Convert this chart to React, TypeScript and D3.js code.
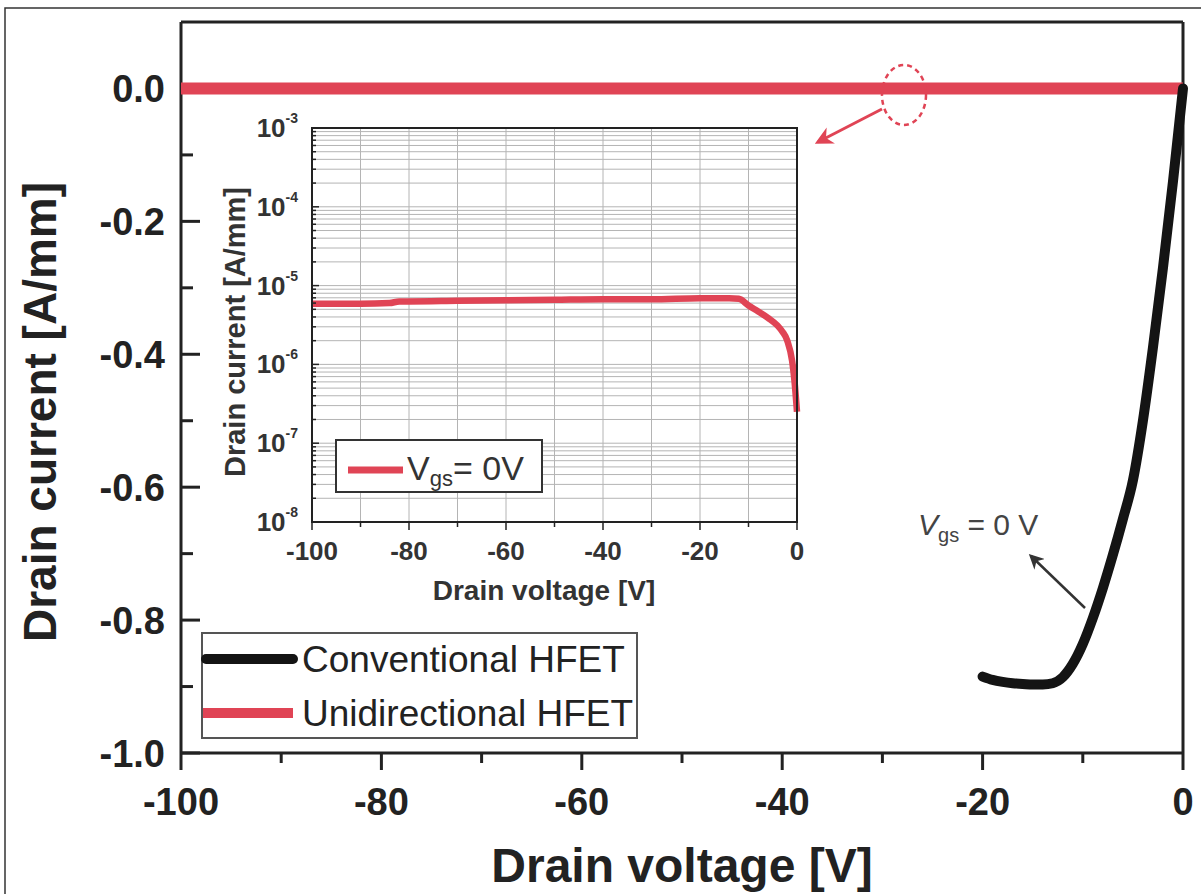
import React from 'react';
import * as d3 from 'd3';

// main plot: drain current vs drain voltage
const convVoltage = [-20, -19, -18, -17, -16, -15, -14, -13, -12, -11, -10, -9, -8, -7, -6, -5, -4, -3, -2, -1, -0.5, 0];
const convCurrent = [-0.885, -0.89, -0.893, -0.895, -0.896, -0.897, -0.897, -0.895, -0.886, -0.866, -0.836, -0.797, -0.752, -0.702, -0.648, -0.59, -0.5, -0.39, -0.27, -0.14, -0.07, 0];
const uniVoltage = [-100, -50, 0];
const uniCurrent = [0, 0, 0];

// inset: unidirectional HFET on log scale
const insetVoltage = [-100, -90, -84, -82, -80, -70, -60, -50, -40, -30, -20, -14, -12, -10, -8, -6, -4, -3, -2, -1, -0.5, 0];
const insetCurrent = [5.9e-6, 5.9e-6, 6.0e-6, 6.3e-6, 6.3e-6, 6.4e-6, 6.5e-6, 6.6e-6, 6.7e-6, 6.7e-6, 6.9e-6, 6.9e-6, 6.8e-6, 5.6e-6, 4.7e-6, 3.9e-6, 3.1e-6, 2.6e-6, 2.0e-6, 1.1e-6, 6e-7, 2.5e-7];

const xTicks = [-100, -80, -60, -40, -20, 0];
const xMinor = [-90, -70, -50, -30, -10];
const yTicks = [0, -0.2, -0.4, -0.6, -0.8, -1.0];
const yMinor = [-0.1, -0.3, -0.5, -0.7, -0.9];
const insetXTicks = [-100, -80, -60, -40, -20, 0];
const insetXMinor = [-90, -70, -50, -30, -10];
const insetDecades = [-3, -4, -5, -6, -7, -8];
const legendLabels = ['Conventional HFET', 'Unidirectional HFET'];

const RED = '#e04455';
const BLACK = '#141414';
const FONT = '"Liberation Sans", Arial, sans-serif';

export default function App() {
  const x = d3.scaleLinear([-100, 0], [181, 1183]);
  const y = d3.scaleLinear([-1, 0.1], [753, 22]);
  const ix = d3.scaleLinear([-100, 0], [312, 797]);
  const iy = d3.scaleLog([1e-8, 1e-3], [522, 128]);

  const convLine = d3.line<number>()
    .x((_, i) => x(convVoltage[i]))
    .y(d => y(d))
    .curve(d3.curveMonotoneX);
  const uniLine = d3.line<number>()
    .x((_, i) => x(uniVoltage[i]))
    .y(d => y(d));
  const insetLine = d3.line<number>()
    .x((_, i) => ix(insetVoltage[i]))
    .y(d => iy(d))
    .curve(d3.curveMonotoneX);

  // every minor log value gets a grid line
  const logGrid: number[] = [];
  for (let e = -8; e < -3; e++) {
    for (let k = 1; k < 10; k++) logGrid.push(k * Math.pow(10, e));
  }
  logGrid.push(1e-3);
  const vGrid = d3.range(-90, 0, 10);

  return (
    <div style={{ position: 'absolute', left: 0, top: 0 }}>
      <svg width={1201} height={894} style={{ display: 'block', background: '#fff' }} fontFamily={FONT}>
        <defs>
          <marker id="headBlack" viewBox="0 0 10 10" refX="8" refY="5" markerWidth="6" markerHeight="6" orient="auto">
            <path d="M0,0 L10,5 L0,10 L3,5 Z" fill="#333" />
          </marker>
          <marker id="headRed" viewBox="0 0 10 10" refX="8" refY="5" markerWidth="6" markerHeight="6" orient="auto">
            <path d="M0,0 L10,5 L0,10 L3,5 Z" fill={RED} />
          </marker>
        </defs>
        <rect x={5} y={8} width={1210} height={900} fill="none" stroke="#333" strokeWidth={1.5} />

        {/* main frame */}
        <g stroke="#222" strokeWidth={3} fill="none">
          <line x1={181} x2={1183} y1={22} y2={22} />
          <line x1={1183} x2={1183} y1={22} y2={753} />
          <line x1={181} x2={181} y1={22} y2={753} />
          <line x1={181} x2={1183} y1={753} y2={753} />
          {xTicks.map(t => <line key={'xt' + t} x1={x(t)} x2={x(t)} y1={753} y2={770} />)}
          {xMinor.map(t => <line key={'xm' + t} x1={x(t)} x2={x(t)} y1={753} y2={763} />)}
          {yTicks.map(t => <line key={'yt' + t} x1={181} x2={200} y1={y(t)} y2={y(t)} />)}
          {yMinor.map(t => <line key={'ym' + t} x1={181} x2={193} y1={y(t)} y2={y(t)} />)}
        </g>
        <g fontSize={38} fontWeight="bold" fill="#222">
          {xTicks.map(t => (
            <text key={'xl' + t} x={x(t)} y={815} textAnchor="middle">{t}</text>
          ))}
          {yTicks.map(t => (
            <text key={'yl' + t} x={165} y={y(t) + 14} textAnchor="end">{t.toFixed(1)}</text>
          ))}
        </g>
        <text x={682} y={882} textAnchor="middle" fontSize={48} fontWeight="bold" fill="#222">Drain voltage [V]</text>
        <text transform="translate(56,412) rotate(-90)" textAnchor="middle" fontSize={46} fontWeight="bold" fill="#222">Drain current [A/mm]</text>

        {/* inset */}
        <g>
          <rect x={312} y={128} width={485} height={394} fill="#fff" />
          <g stroke="#b4b4b4" strokeWidth={1}>
            {logGrid.map((v, i) => <line key={'hg' + i} x1={312} x2={797} y1={iy(v)} y2={iy(v)} />)}
            {vGrid.map(v => <line key={'vg' + v} x1={ix(v)} x2={ix(v)} y1={128} y2={522} />)}
          </g>
          <path d={insetLine(insetCurrent) || ''} fill="none" stroke={RED} strokeWidth={6.5} />
          <rect x={312} y={128} width={485} height={394} fill="none" stroke="#222" strokeWidth={2} />
          <g stroke="#222" strokeWidth={1.5}>
            {logGrid.map((v, i) => {
              const major = Math.abs(Math.log10(v) - Math.round(Math.log10(v))) < 1e-6;
              return <line key={'lt' + i} x1={312} x2={major ? 319 : 316} y1={iy(v)} y2={iy(v)} />;
            })}
            {insetXTicks.map(t => <line key={'ixt' + t} x1={ix(t)} x2={ix(t)} y1={522} y2={530} />)}
            {insetXMinor.map(t => <line key={'ixm' + t} x1={ix(t)} x2={ix(t)} y1={522} y2={527} />)}
          </g>
          <g fill="#333" fontWeight="bold">
            {insetDecades.map(e => (
              <text key={'il' + e} x={298} y={iy(Math.pow(10, e)) + 9} textAnchor="end" fontSize={26}>
                10<tspan fontSize={14} dy={-14}>{e}</tspan>
              </text>
            ))}
            {insetXTicks.map(t => (
              <text key={'ixl' + t} x={ix(t)} y={560} textAnchor="middle" fontSize={26}>{t}</text>
            ))}
            <text x={544} y={600} textAnchor="middle" fontSize={28}>Drain voltage [V]</text>
            <text transform="translate(245,332) rotate(-90)" textAnchor="middle" fontSize={29}>Drain current [A/mm]</text>
          </g>
          <rect x={336} y={440} width={206} height={52} fill="#fff" stroke="#333" strokeWidth={2} />
          <line x1={348} x2={403} y1={470} y2={470} stroke={RED} strokeWidth={7} />
          <text x={407} y={480} fontSize={34} fill="#333">
            V<tspan fontSize={22} dy={6}>gs</tspan><tspan dy={-6}>= 0V</tspan>
          </text>
        </g>

        {/* data curves */}
        <path d={uniLine(uniCurrent) || ''} fill="none" stroke={RED} strokeWidth={12} />
        <path d={convLine(convCurrent) || ''} fill="none" stroke={BLACK} strokeWidth={10} strokeLinecap="round" />

        {/* annotations */}
        <ellipse cx={904} cy={95} rx={22} ry={30} fill="none" stroke={RED} strokeWidth={2.5} strokeDasharray="5,4" />
        <line x1={882} y1={109} x2={818} y2={142} stroke={RED} strokeWidth={3} markerEnd="url(#headRed)" />
        <text x={918} y={535} fontSize={30} fill="#444">
          <tspan fontStyle="italic">V</tspan><tspan fontSize={20} dy={7}>gs</tspan><tspan dy={-7}> = 0 V</tspan>
        </text>
        <line x1={1085} y1={608} x2={1031} y2={556} stroke="#333" strokeWidth={2.5} markerEnd="url(#headBlack)" />

        {/* legend */}
        <rect x={202} y={633} width={435} height={105} fill="#fff" stroke="#555" strokeWidth={2} />
        <line x1={206} x2={293} y1={659} y2={659} stroke={BLACK} strokeWidth={10} strokeLinecap="round" />
        <line x1={203} x2={293} y1={713} y2={713} stroke={RED} strokeWidth={10} />
        <text x={302} y={672} fontSize={37} fill="#222">{legendLabels[0]}</text>
        <text x={302} y={726} fontSize={37} fill="#222">{legendLabels[1]}</text>
      </svg>
    </div>
  );
}
